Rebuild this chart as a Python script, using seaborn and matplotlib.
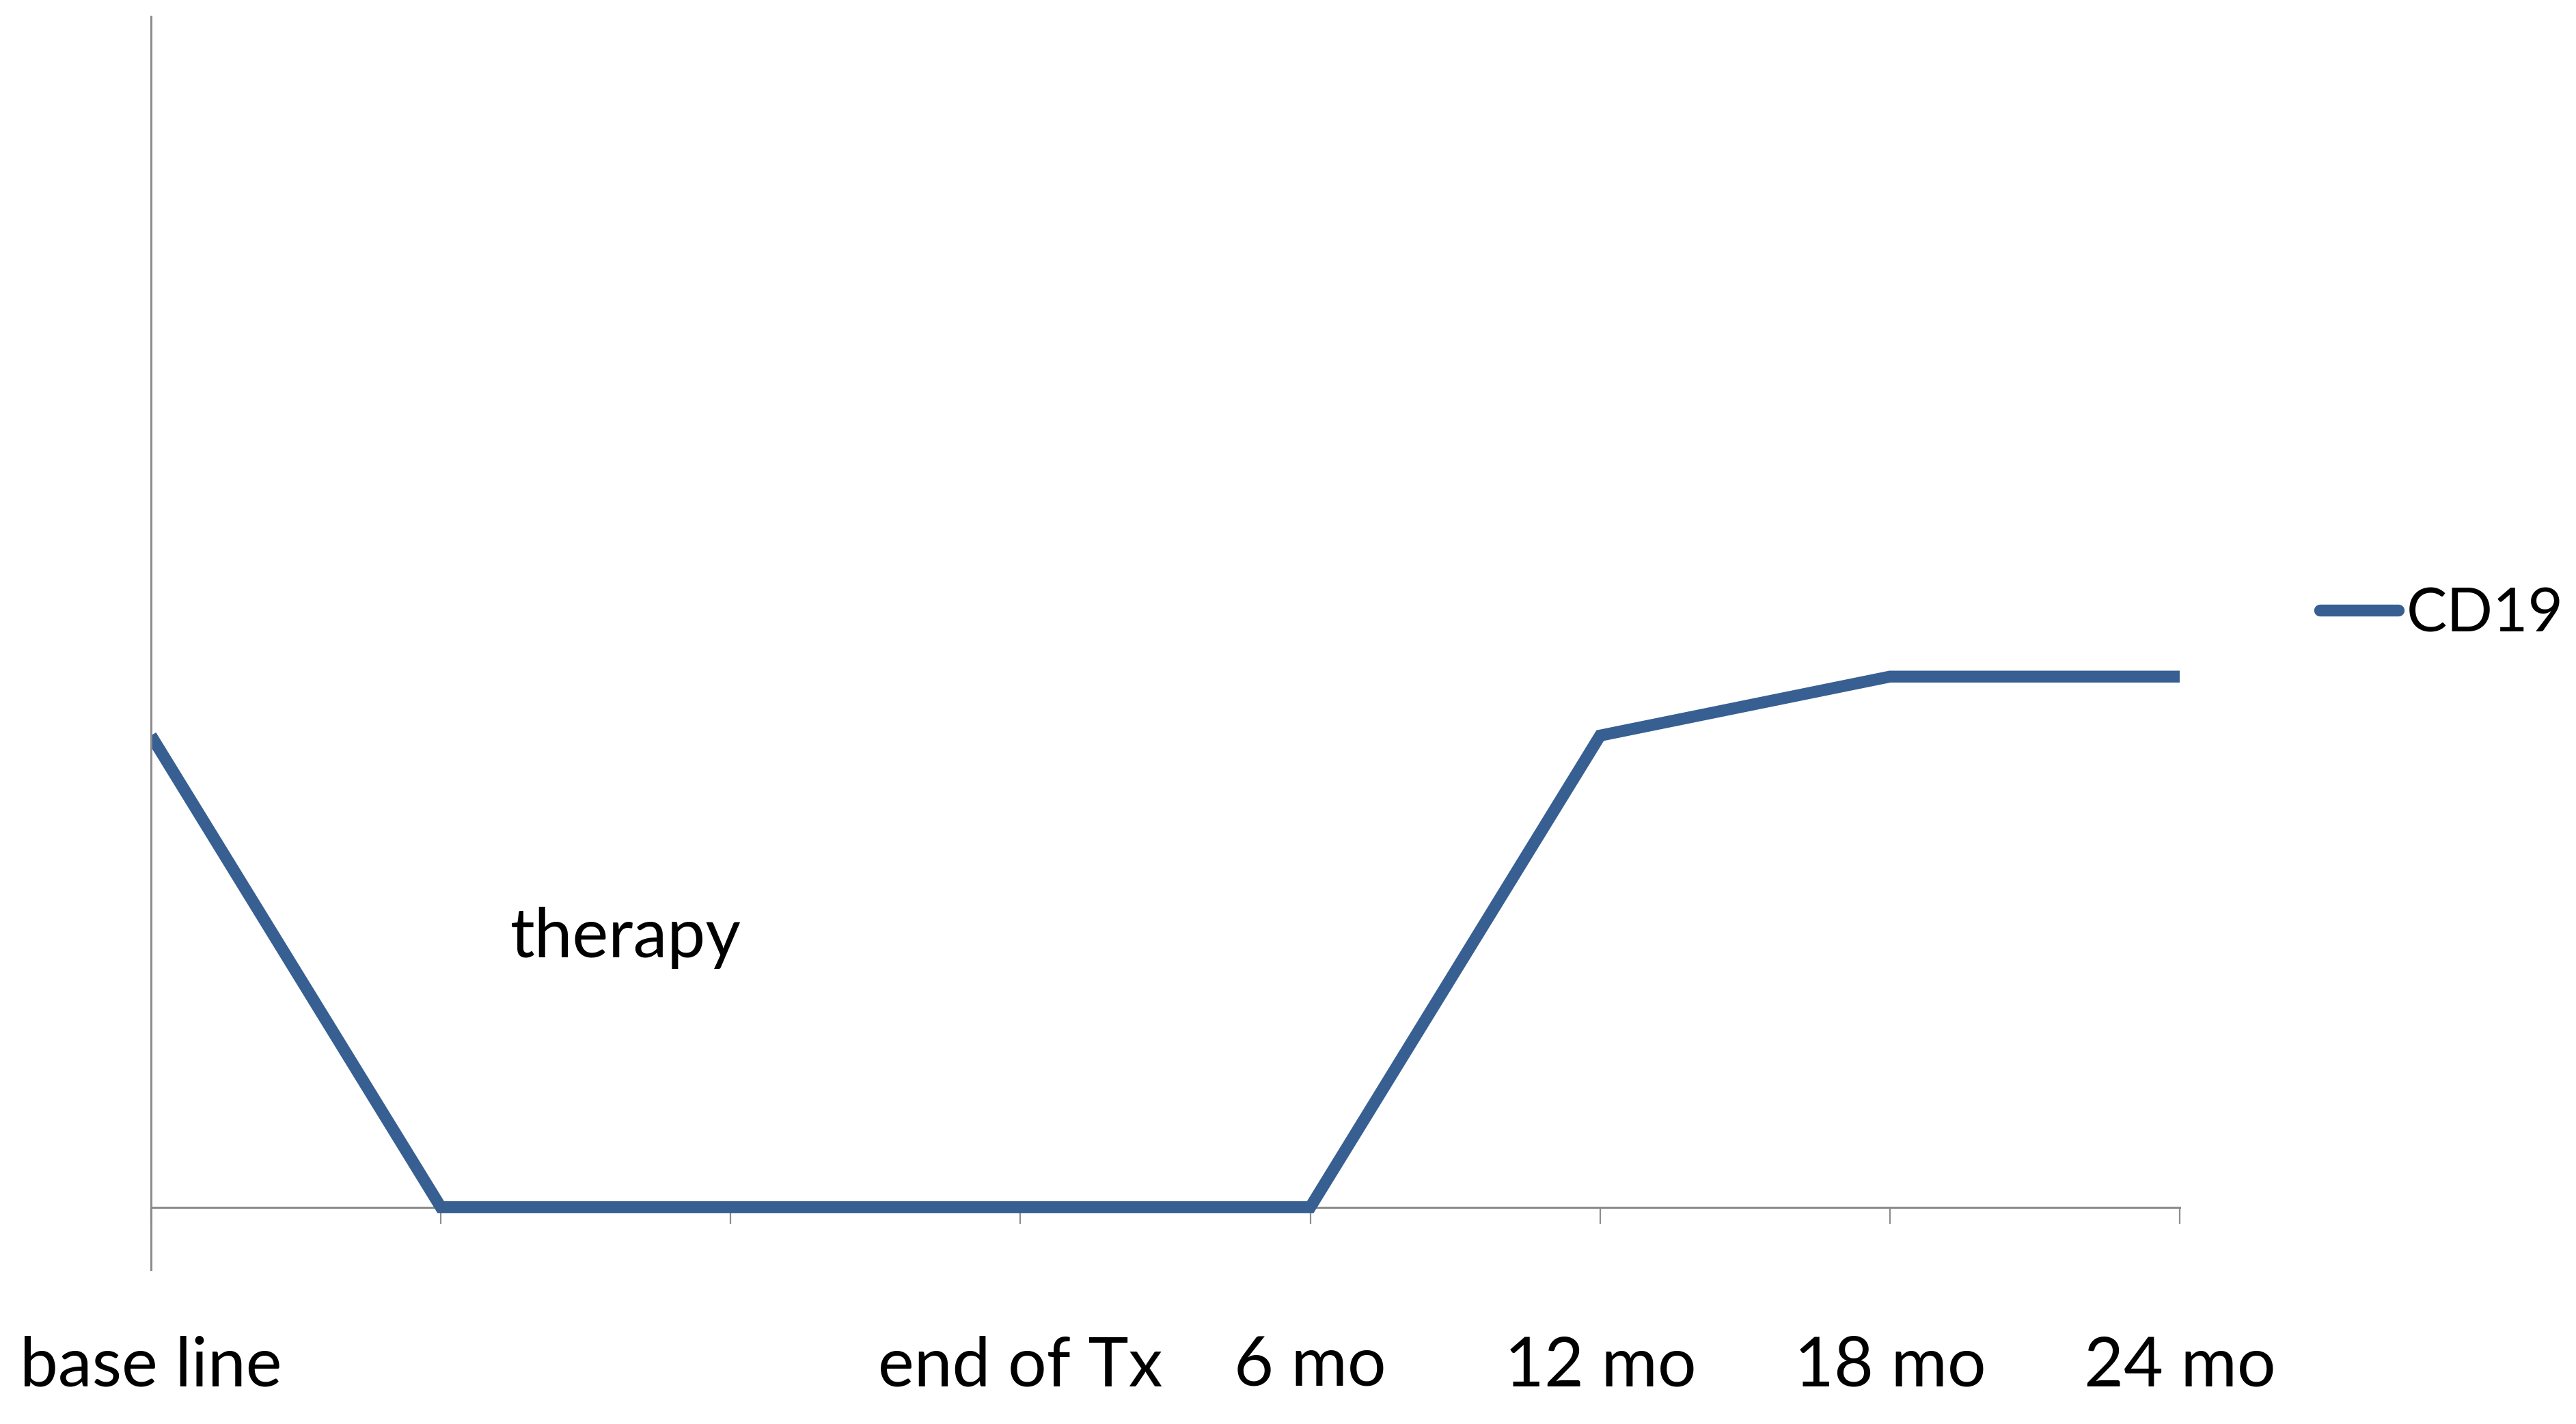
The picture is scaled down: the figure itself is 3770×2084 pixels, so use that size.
import numpy as np
import pandas as pd
import matplotlib
matplotlib.use("Agg")
import matplotlib.pyplot as plt
import seaborn as sns

# data (arbitrary units, no y scale shown)
timepoints = ["base line", "", "", "end of Tx", "6 mo", "12 mo", "18 mo", "24 mo"]
cd19 = [40, 0, 0, 0, 0, 40, 45, 45]
series_name = "CD19"
note_text = "therapy"

LINE_COLOR = "#375F91"
AXIS_COLOR = "#8C8C8C"

sns.set_style("white")
plt.rcParams["font.family"] = ["Lato", "DejaVu Sans"]
plt.rcParams["font.size"] = 72
plt.rcParams["text.color"] = "black"

df = pd.DataFrame({
    "pos": np.arange(len(timepoints)),
    "value": cd19,
    "series": series_name,
})

fig = plt.figure(figsize=(37.7, 20.84), dpi=100)
ax = fig.add_axes([0.0586, 0.1084, 0.8462 - 0.0586, 0.9885 - 0.1084])

sns.lineplot(data=df, x="pos", y="value", hue="series",
             palette=[LINE_COLOR], linewidth=12.5, ax=ax,
             solid_capstyle="butt", solid_joinstyle="miter", legend=True)

ax.set_xlim(0, len(timepoints) - 1)
ax.set_ylim(-5.3, 101)

# spines: vertical axis on the left, horizontal axis through zero
for side in ["top", "right"]:
    ax.spines[side].set_visible(False)
ax.spines["left"].set_color(AXIS_COLOR)
ax.spines["left"].set_linewidth(2.2)
ax.spines["bottom"].set_position(("data", 0))
ax.spines["bottom"].set_color(AXIS_COLOR)
ax.spines["bottom"].set_linewidth(2.2)
ax.spines["bottom"].set_zorder(0)

ax.set_yticks([])
ax.set_xticks(df["pos"])
ax.set_xticklabels(timepoints)
ax.tick_params(axis="x", bottom=True, direction="out", length=17, width=1.6,
               color=AXIS_COLOR, pad=118, labelsize=72, labelcolor="black")
ax.set_xlabel("")
ax.set_ylabel("")

ax.text(1.24, 21.2, note_text, fontsize=72, color="black",
        ha="left", va="baseline")

handles, labels = ax.get_legend_handles_labels()
leg = ax.legend(handles, labels, loc="center left",
                bbox_to_anchor=(0.9005, 0.5686), bbox_transform=fig.transFigure,
                frameon=False, fontsize=64, handlelength=1.3,
                handletextpad=0.13, borderpad=0, borderaxespad=0,
                labelcolor="black")
for h in leg.get_lines():
    h.set_linewidth(12.5)
    h.set_solid_capstyle("round")

fig.savefig("out.png", dpi=100, facecolor="white")
